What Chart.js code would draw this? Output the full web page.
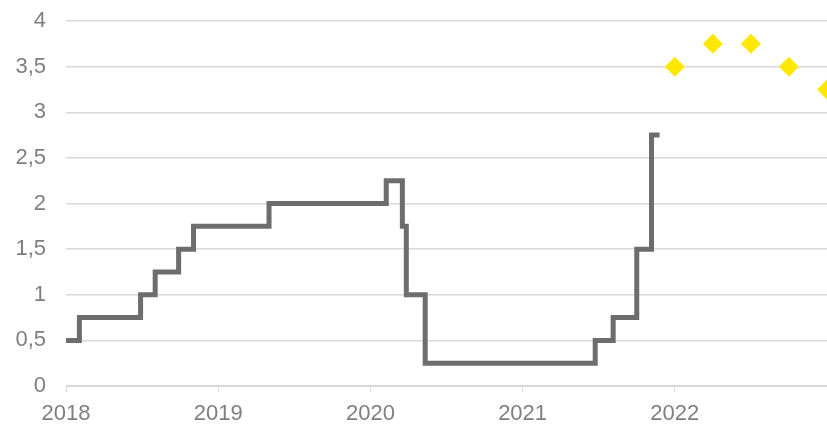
<!DOCTYPE html>
<html>
<head>
<meta charset="utf-8">
<script src="https://cdn.jsdelivr.net/npm/chart.js@4"></script>
<style>
  html, body { margin: 0; padding: 0; background: #fff; }
  #wrap { width: 827px; height: 426px; }
</style>
</head>
<body>
<div id="wrap"><canvas id="chart"></canvas></div>
<script>
// repo rate changes: decimal year of change, new rate (%)
const rateDates = [2018.0, 2018.088, 2018.49, 2018.586, 2018.74, 2018.838, 2019.334,
  2020.104, 2020.21, 2020.236, 2020.36, 2021.477, 2021.595, 2021.75, 2021.847, 2021.9];
const rateValues = [0.5, 0.75, 1.0, 1.25, 1.5, 1.75, 2.0,
  2.25, 1.75, 1.0, 0.25, 0.5, 0.75, 1.5, 2.75, 2.75];

// forecast, quarterly
const forecastDates = [2022.0, 2022.25, 2022.5, 2022.75, 2023.0];
const forecastValues = [3.5, 3.75, 3.75, 3.5, 3.25];

const yearTicks = [2018, 2019, 2020, 2021, 2022, 2023];
const yearLabels = ['2018', '2019', '2020', '2021', '2022', ''];

const ctx = document.getElementById('chart').getContext('2d');
new Chart(ctx, {
  type: 'line',
  data: {
    datasets: [
      {
        label: 'Repo',
        data: rateDates.map((d, i) => ({ x: d, y: rateValues[i] })),
        borderColor: '#6d6d6d',
        borderWidth: 5,
        stepped: true,
        pointRadius: 0,
        fill: false
      },
      {
        label: 'Prognóza',
        data: forecastDates.map((d, i) => ({ x: d, y: forecastValues[i] })),
        showLine: false,
        pointStyle: 'rectRot',
        pointRadius: 10,
        pointBackgroundColor: '#ffe800',
        pointBorderWidth: 0,
        borderColor: '#ffe800'
      }
    ]
  },
  options: {
    responsive: true,
    maintainAspectRatio: false,
    animation: false,
    layout: { autoPadding: false, padding: { top: 21, right: 0, bottom: 0, left: 0 } },
    plugins: {
      legend: { display: false },
      tooltip: { enabled: false }
    },
    scales: {
      x: {
        type: 'linear',
        min: 2018,
        max: 2023,
        afterBuildTicks: axis => {
          axis.ticks = yearTicks.map(v => ({ value: v }));
        },
        afterFit: axis => { axis.height = 40; },
        ticks: {
          color: '#7f7f7f',
          // tall line height pushes the labels down without adding side padding
          font: { family: 'Liberation Sans, Arial', size: 22, lineHeight: 2 },
          padding: 0,
          maxRotation: 0,
          autoSkip: false,
          callback: (v, i) => yearLabels[i]
        },
        grid: {
          drawOnChartArea: false,
          drawTicks: true,
          tickLength: 6,
          color: '#d9d9d9'
        },
        border: { display: true, color: '#d9d9d9' }
      },
      y: {
        min: 0,
        max: 4,
        afterFit: axis => {
          axis.width = 66;
          axis.paddingTop = 0;
          axis.paddingBottom = 0;
        },
        ticks: {
          stepSize: 0.5,
          color: '#7f7f7f',
          font: { family: 'Liberation Sans, Arial', size: 22 },
          padding: 20,
          callback: v => String(v).replace('.', ',')
        },
        grid: {
          color: '#d9d9d9',
          lineWidth: 1.5,
          drawTicks: false
        },
        border: { display: false }
      }
    }
  }
});
</script>
</body>
</html>
